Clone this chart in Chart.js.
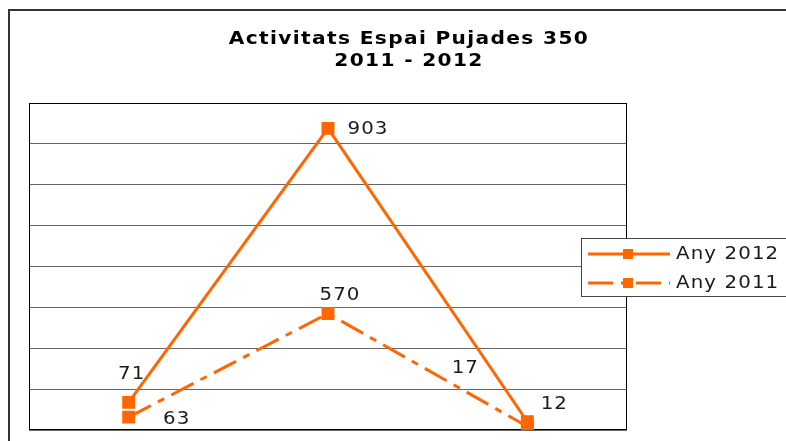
<!DOCTYPE html>
<html>
<head>
<meta charset="utf-8">
<script src="https://cdn.jsdelivr.net/npm/chart.js@4/dist/chart.umd.min.js"></script>
<style>
  body { margin: 0; background: #fff; }
  #wrap { width: 786px; height: 441px; }
</style>
</head>
<body>
<div id="wrap"><canvas id="lineChart"></canvas></div>
<script>
const categories = ['1', '2', '3'];
const any2012 = [71, 903, 12];
const any2011 = [63, 570, 17];
const titleLines = ['Activitats Espai Pujades 350', '2011 - 2012'];

// label offsets from each point (dx, dy)
const off2012 = [[3, -28], [40, 1], [27, -17]];
const off2011 = [[48, 2], [12, -18], [-62, -58]];

const ORANGE = '#FF6600';
const DASH = [25, 8, 7, 8];
const FONT = 'DejaVu Sans';

// wide text, closer to Verdana
function wideText(ctx, text, x, y, align, sx) {
  ctx.save();
  ctx.translate(x, y);
  ctx.scale(sx, 1);
  ctx.textAlign = align;
  ctx.fillText(text, 0, 0);
  ctx.restore();
}

const extras = {
  id: 'extras',
  beforeDraw(chart) {
    const ctx = chart.ctx;
    ctx.save();
    ctx.fillStyle = '#fff';
    ctx.fillRect(0, 0, chart.width, chart.height);
    // outer frame (top + left)
    ctx.strokeStyle = '#333';
    ctx.lineWidth = 2;
    ctx.beginPath();
    ctx.moveTo(9, chart.height);
    ctx.lineTo(9, 10);
    ctx.lineTo(chart.width, 10);
    ctx.stroke();
    // title
    ctx.fillStyle = '#000';
    ctx.font = 'bold 18px "' + FONT + '"';
    ctx.letterSpacing = '1.2px';
    ctx.textBaseline = 'middle';
    wideText(ctx, titleLines[0], 409, 39, 'center', 1.12);
    wideText(ctx, titleLines[1], 409, 61, 'center', 1.12);
    ctx.restore();
  },
  beforeDatasetsDraw(chart) {
    const a = chart.chartArea;
    const ctx = chart.ctx;
    ctx.save();
    ctx.strokeStyle = '#000';
    ctx.lineWidth = 1;
    ctx.strokeRect(a.left + 0.5, a.top + 0.5, a.right - a.left - 1, a.bottom - a.top - 1);
    ctx.restore();
  },
  afterDraw(chart) {
    const ctx = chart.ctx;
    ctx.save();
    // data labels
    ctx.font = '18px "' + FONT + '"';
    ctx.letterSpacing = '1px';
    ctx.fillStyle = '#1a1a1a';
    ctx.textBaseline = 'middle';
    const offs = [off2012, off2011];
    chart.data.datasets.forEach((ds, i) => {
      chart.getDatasetMeta(i).data.forEach((pt, j) => {
        wideText(ctx, String(ds.data[j]), pt.x + offs[i][j][0], pt.y + offs[i][j][1], 'center', 1.1);
      });
    });
    // legend
    const lx = 581, ly = 238, lw = 215, lh = 58;
    ctx.fillStyle = '#fff';
    ctx.fillRect(lx, ly, lw, lh);
    ctx.strokeStyle = '#444';
    ctx.lineWidth = 1;
    ctx.strokeRect(lx + 0.5, ly + 0.5, lw, lh);
    chart.data.datasets.forEach((ds, i) => {
      const y = 254 + i * 29;
      ctx.strokeStyle = ORANGE;
      ctx.lineWidth = 3;
      ctx.setLineDash(ds.borderDash || []);
      ctx.beginPath();
      ctx.moveTo(588, y);
      ctx.lineTo(670, y);
      ctx.stroke();
      ctx.setLineDash([]);
      ctx.fillStyle = ORANGE;
      ctx.fillRect(623, y - 5, 10, 10);
      ctx.fillStyle = '#1a1a1a';
      wideText(ctx, ds.label, 676, y, 'left', 1.1);
    });
    ctx.restore();
  }
};

new Chart(document.getElementById('lineChart'), {
  type: 'line',
  data: {
    labels: categories,
    datasets: [
      {
        label: 'Any 2012',
        data: any2012,
        yAxisID: 'y',
        borderColor: ORANGE,
        backgroundColor: ORANGE,
        borderWidth: 3,
        pointStyle: 'rect',
        pointRadius: 7,
        pointHoverRadius: 7,
        tension: 0
      },
      {
        label: 'Any 2011',
        data: any2011,
        yAxisID: 'y1',
        borderColor: ORANGE,
        backgroundColor: ORANGE,
        borderWidth: 3,
        borderDash: DASH,
        pointStyle: 'rect',
        pointRadius: 7,
        pointHoverRadius: 7,
        tension: 0
      }
    ]
  },
  options: {
    responsive: true,
    maintainAspectRatio: false,
    animation: false,
    layout: { padding: { left: 29, right: 159, top: 103, bottom: 11 } },
    plugins: {
      legend: { display: false },
      title: { display: false },
      tooltip: { enabled: false }
    },
    scales: {
      x: { type: 'category', offset: true, display: false },
      y: { min: -13, max: 980, display: false },
      y1: { min: 0, max: 1600, display: false },
      grid: {
        type: 'linear',
        position: 'left',
        min: 0,
        max: 8,
        ticks: { display: false, stepSize: 1 },
        grid: { color: '#666', lineWidth: 1, drawTicks: false },
        border: { display: false }
      }
    }
  },
  plugins: [extras]
});
</script>
</body>
</html>
